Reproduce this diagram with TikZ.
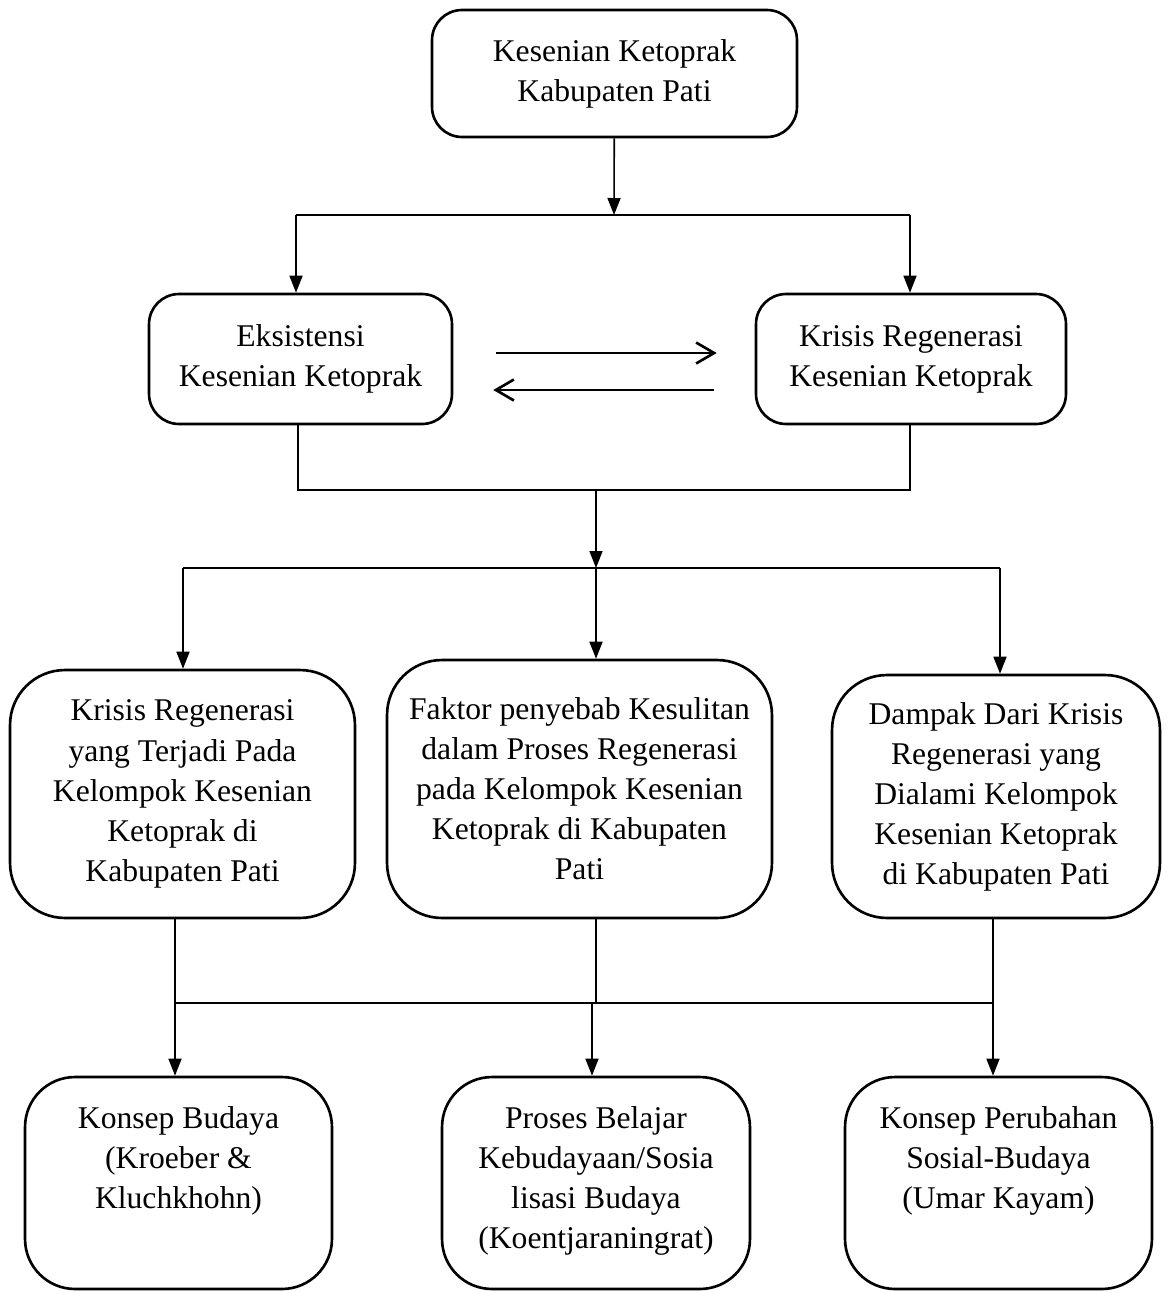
\documentclass[tikz,border=0pt]{standalone}
\usepackage{fontspec}
\setmainfont{Liberation Serif}
\usetikzlibrary{arrows.meta,positioning,calc}

\begin{document}
\begin{tikzpicture}[x=0.02cm,y=-0.02cm,
  box/.style={draw, line width=1.5pt, align=center, inner sep=0pt, font=\fontsize{18}{22.8}\selectfont},
  txt/.style={align=center, inner sep=0pt, font=\fontsize{18}{22.8}\selectfont},
  arr/.style={line width=0.9pt, -{Triangle[length=0.34cm,width=0.26cm]}},
  bar/.style={line width=1.5pt},
  opena/.style={line width=1.5pt, -{Straight Barb[length=0.36cm,width=0.42cm]}}]
\useasboundingbox (0,0) rectangle (1175,1292);

% baris atas
\node[box, rounded corners=0.6cm, minimum width=7.3cm, minimum height=2.54cm] (kesenian) at (614.5,73.5) {Kesenian Ketoprak\\Kabupaten Pati};
\node[box, rounded corners=0.6cm, minimum width=6.06cm, minimum height=2.6cm] (eksistensi) at (300.5,359) {Eksistensi\\Kesenian Ketoprak};
\node[box, rounded corners=0.6cm, minimum width=6.2cm, minimum height=2.6cm] (krisis) at (911,359) {Krisis Regenerasi\\Kesenian Ketoprak};

% baris tengah
\node[box, rounded corners=1.1cm, minimum width=6.9cm, minimum height=4.96cm] (terjadi) at (182.5,794) {Krisis Regenerasi\\yang Terjadi Pada\\Kelompok Kesenian\\Ketoprak di\\Kabupaten Pati};
\node[box, rounded corners=1.1cm, minimum width=7.7cm, minimum height=5.16cm] (faktor) at (579.5,789) {Faktor penyebab Kesulitan\\dalam Proses Regenerasi\\pada Kelompok Kesenian\\Ketoprak di Kabupaten\\Pati};
\node[box, rounded corners=1.1cm, minimum width=6.56cm, minimum height=4.86cm] (dampak) at (996,796.5) {Dampak Dari Krisis\\Regenerasi yang\\Dialami Kelompok\\Kesenian Ketoprak\\di Kabupaten Pati};

% baris bawah
\node[box, rounded corners=1cm, minimum width=6.14cm, minimum height=4.24cm] (konsep) at (178.5,1183) {};
\node[box, rounded corners=1cm, minimum width=6.16cm, minimum height=4.24cm] (belajar) at (596,1183) {};
\node[box, rounded corners=1cm, minimum width=6.14cm, minimum height=4.24cm] (perubahan) at (998.5,1183) {};
\node[txt, anchor=north] (konsepT) at ([yshift=-0.6cm]konsep.north) {Konsep Budaya\\(Kroeber \&\\Kluchkhohn)};
\node[txt, anchor=north] (belajarT) at ([yshift=-0.6cm]belajar.north) {Proses Belajar\\Kebudayaan/Sosia\\lisasi Budaya\\(Koentjaraningrat)};
\node[txt, anchor=north] (perubahanT) at ([yshift=-0.6cm]perubahan.north) {Konsep Perubahan\\Sosial-Budaya\\(Umar Kayam)};

% titik cabang
\coordinate (a1) at (614,215);
\coordinate (a1l) at (296,215);
\coordinate (a1r) at (910,215);
\coordinate (a2l) at (298,490);
\coordinate (a2m) at (596,490);
\coordinate (a2r) at (910,490);
\coordinate (a3l) at (183,568);
\coordinate (a3m) at (596,568);
\coordinate (a3r) at (1000,568);
\coordinate (a4l) at (175,1003);
\coordinate (a4m) at (592,1003);
\coordinate (a4r) at (993,1003);

% penghubung
\draw[arr] (kesenian) -- (a1);
\draw[bar] (a1l) -- (a1r);
\draw[arr] (a1l) -- (a1l |- eksistensi.north);
\draw[arr] (a1r) -- (a1r |- krisis.north);

\draw[opena] ([shift={(0.86cm,0.12cm)}]eksistensi.east) -- ([shift={(-0.76cm,0.12cm)}]krisis.west);
\draw[opena] ([shift={(-0.82cm,-0.62cm)}]krisis.west) -- ([shift={(0.8cm,-0.62cm)}]eksistensi.east);

\draw[bar] (a2l |- eksistensi.south) -- (a2l) -- (a2r) -- (a2r |- krisis.south);
\draw[arr] (a2m) -- (a3m);
\draw[bar] (a3l) -- (a3r);
\draw[arr] (a3l) -- (a3l |- terjadi.north);
\draw[arr] (a3m) -- (a3m |- faktor.north);
\draw[arr] (a3r) -- (a3r |- dampak.north);

\draw[bar] (a4l |- terjadi.south) -- (a4l) -- (a4r) -- (a4r |- dampak.south);
\draw[bar] (faktor.south -| a2m) -- (a2m |- a4m);
\draw[arr] (a4l) -- (a4l |- konsep.north);
\draw[arr] (a4m) -- (a4m |- belajar.north);
\draw[arr] (a4r) -- (a4r |- perubahan.north);
\end{tikzpicture}
\end{document}
